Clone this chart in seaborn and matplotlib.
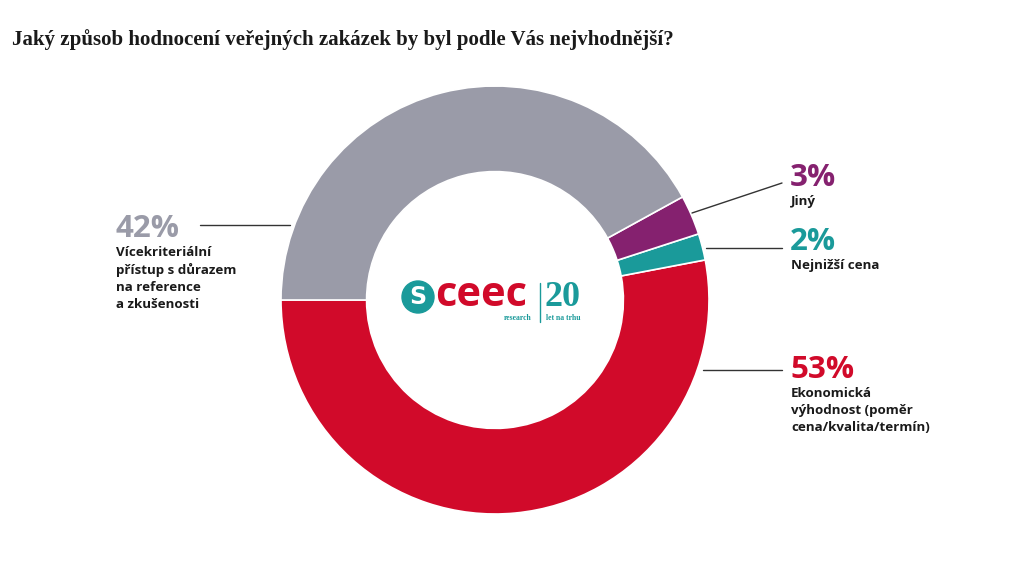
import matplotlib
matplotlib.use("Agg")
import matplotlib.pyplot as plt
import seaborn as sns
from matplotlib.patches import Circle

# ---- data ----
categories = ["Ekonomická\nvýhodnost (poměr\ncena/kvalita/termín)", "Nejnižší cena", "Jiný",
              "Vícekriteriální\npřístup s důrazem\nna reference\na zkušenosti"]
values = [53, 2, 3, 42]
pct_labels = ["53%", "2%", "3%", "42%"]
colors = ["#d10a2a", "#1a9a9a", "#85216f", "#9a9ba8"]
title = "Jaký způsob hodnocení veřejných zakázek by byl podle Vás nejvhodnější?"

sns.set_theme(style="white")
plt.rcParams["font.family"] = ["Open Sans", "DejaVu Sans"]

W, H = 1024, 563
fig = plt.figure(figsize=(W / 100, H / 100), dpi=100)
fig.patch.set_facecolor("white")

# donut axes: center (495,300), radius 214 px
cx, cy, R = 495, 300, 214
ax = fig.add_axes([(cx - R) / W, (H - cy - R) / H, 2 * R / W, 2 * R / H])
ax.pie(values, colors=colors, startangle=180, counterclock=True, radius=1,
       wedgeprops=dict(width=0.4, edgecolor="white", linewidth=1.2))
ax.set_xlim(-1, 1)
ax.set_ylim(-1, 1)
ax.set_aspect("equal")
ax.axis("off")

# overlay in pixel coords
ov = fig.add_axes([0, 0, 1, 1])
ov.set_xlim(0, W)
ov.set_ylim(H, 0)
ov.axis("off")
ov.patch.set_alpha(0)

ov.text(12, 40, title, fontsize=15, fontweight="bold", family=["Liberation Serif", "DejaVu Serif"],
        color="#1a1a1a", va="center", ha="left")

# leader lines
lc = "#333333"
ov.plot([200, 290], [225, 225], color=lc, lw=1)
ov.plot([692, 782], [213, 183], color=lc, lw=1)
ov.plot([706, 782], [248, 248], color=lc, lw=1)
ov.plot([703, 782], [370, 370], color=lc, lw=1)

# labels: (x, y of pct, index)
label_pos = {3: (115, 229), 2: (790, 178), 1: (790, 242), 0: (790, 370)}
for i, (x, y) in label_pos.items():
    ov.text(x, y, pct_labels[i], fontsize=22.5, fontweight="bold", color=colors[i],
            va="center", ha="left", family=["Open Sans", "DejaVu Sans"])
    ov.text(x + 1, y + 17, categories[i], fontsize=9.6, fontweight="bold", color="#1a1a1a",
            va="top", ha="left", linespacing=1.4, family=["Open Sans", "DejaVu Sans"])

# logo
teal = "#1a9a9a"
ov.add_patch(Circle((418, 297), 16, color=teal))
ov.text(418, 297, "S", fontsize=17, fontweight="bold", color="white", ha="center", va="center",
        family=["DejaVu Sans"])
ov.text(435, 295, "ceec", fontsize=30, fontweight="bold", color="#d10a2a", ha="left", va="center",
        family=["Open Sans", "DejaVu Sans"])
ov.plot([540, 540], [283, 322], color=teal, lw=1)
ov.text(545, 297, "20", fontsize=26, fontweight="bold", color=teal, ha="left", va="center",
        family=["Liberation Serif", "DejaVu Serif"])
ov.text(532, 318, "research", fontsize=5.5, fontweight="bold", color=teal, ha="right", va="center",
        family=["Liberation Serif"])
ov.text(546, 318, "let na trhu", fontsize=5.5, fontweight="bold", color=teal, ha="left", va="center",
        family=["Liberation Serif"])

fig.savefig("out.png", dpi=100, facecolor="white")
